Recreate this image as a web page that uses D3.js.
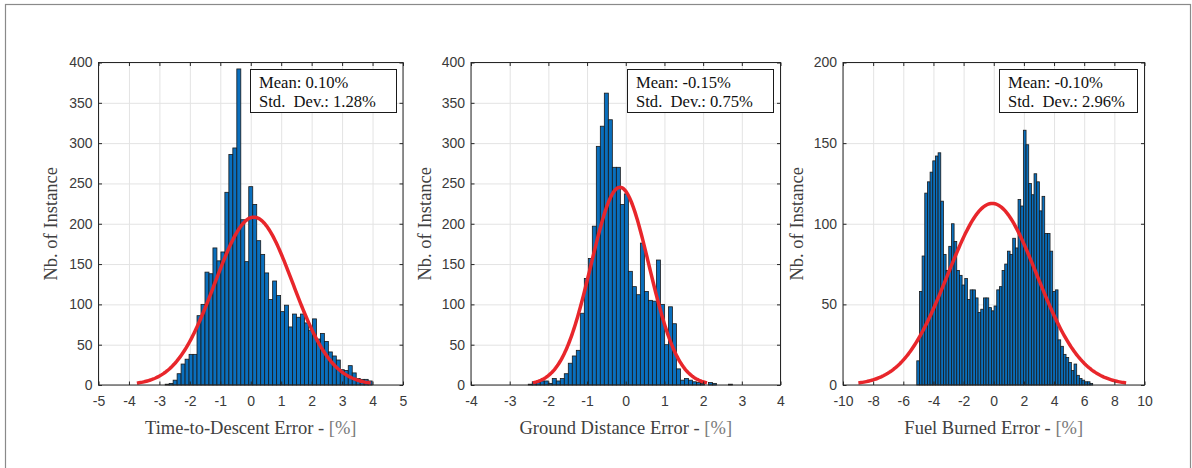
<!DOCTYPE html>
<html>
<head>
<meta charset="utf-8">
<script src="https://cdn.jsdelivr.net/npm/d3@7"></script>
<style>
  body { margin: 0; background: #ffffff; }
  .tick text { font-family: "Liberation Sans", Arial, sans-serif; font-size: 14px; fill: #3a3a3a; }
  .label { font-family: "Liberation Serif", "Times New Roman", serif; font-size: 18.5px; fill: #404040; }
  .legend--text { font-family: "Liberation Serif", "Times New Roman", serif; font-size: 16.6px; fill: #111; }
</style>
</head>
<body>
<svg id="chart" width="1192" height="468"></svg>
<script>
// Time-to-Descent error histogram
const tdBinStart = -2.81;
const tdBinWidth = 0.1307;
const tdCounts = [1, 2, 6, 14, 26, 32, 38, 38, 86, 100, 140, 138, 170, 154, 165, 239, 286, 294, 392, 205,
    153, 246, 224, 179, 162, 139, 106, 129, 111, 91, 99, 72, 88, 84, 88, 77, 68, 82, 57, 64,
    54, 41, 36, 31, 19, 18, 24, 15, 8, 7, 7, 5];
const tdMean = 0.10, tdStd = 1.28;

// Ground distance error histogram
const gdBinStart = -2.52;
const gdBinWidth = 0.1035;
const gdCounts = [1, 4, 3, 5, 5, 2, 8, 5, 8, 14, 27, 36, 43, 89, 132, 157, 197, 296, 321, 362,
    329, 270, 270, 224, 237, 141, 122, 112, 176, 116, 105, 104, 155, 100, 50, 97, 76, 20, 6, 8,
    6, 4, 3, 2, 0, 3, 2, 0, 0, 0, 1];
const gdMean = -0.15, gdStd = 0.75;

// Fuel burned error histogram
const fbBinStart = -5.106;
const fbBinWidth = 0.1768;
const fbCounts = [15, 58, 80, 119, 126, 132, 139, 142, 144, 114, 81, 71, 86, 100, 89, 71, 68, 62, 66, 53,
    59, 59, 54, 45, 47, 54, 54, 48, 46, 49, 59, 61, 71, 75, 83, 81, 91, 85, 115, 111,
    158, 149, 125, 118, 131, 126, 108, 117, 94, 94, 83, 58, 59, 28, 24, 19, 17, 14, 9, 13,
    6, 4, 3, 2, 2, 1];
const fbMean = -0.10, fbStd = 2.96;

const xLabels = ["Time-to-Descent Error - ", "Ground Distance Error - ", "Fuel Burned Error - "];
const yLabel = "Nb. of Instance";

const svg = d3.select("#chart");

// outer figure frame
svg.append("rect")
    .attr("x", 5.5).attr("y", 4.5)
    .attr("width", 1185).attr("height", 480)
    .attr("fill", "none")
    .attr("stroke", "#8a8a8a")
    .attr("stroke-width", 1.2);

const plotTop = 62.5, plotBottom = 385;

const panels = [
    { left: 98.5, right: 403, xDomain: [-5, 5], xStep: 1, yMax: 400,
      start: tdBinStart, width: tdBinWidth, counts: tdCounts, mean: tdMean, std: tdStd,
      label: xLabels[0], legendX: [250, 396], yLabelX: 57 },
    { left: 471, right: 780.5, xDomain: [-4, 4], xStep: 1, yMax: 400,
      start: gdBinStart, width: gdBinWidth, counts: gdCounts, mean: gdMean, std: gdStd,
      label: xLabels[1], legendX: [627, 773], yLabelX: 431 },
    { left: 843, right: 1144.5, xDomain: [-10, 10], xStep: 2, yMax: 200,
      start: fbBinStart, width: fbBinWidth, counts: fbCounts, mean: fbMean, std: fbStd,
      label: xLabels[2], legendX: [999, 1137], yLabelX: 803 }
];

function fmt(v) {
    return (v < 0 ? "-" : "") + Math.abs(v).toFixed(2) + "%";
}
const tickFmt = d => (d < 0 ? "-" : "") + Math.abs(d);

function drawPanel(p) {
    const x = d3.scaleLinear().domain(p.xDomain).range([p.left, p.right]);
    const y = d3.scaleLinear().domain([0, p.yMax]).range([plotBottom, plotTop]);
    const xTicks = d3.range(p.xDomain[0], p.xDomain[1] + 0.001, p.xStep);
    const yTicks = d3.range(0, p.yMax + 0.001, 50);
    const g = svg.append("g");

    // grid
    g.append("g")
        .attr("transform", `translate(0,${plotBottom})`)
        .call(d3.axisBottom(x).tickValues(xTicks).tickSize(-(plotBottom - plotTop)).tickFormat(""))
        .call(a => a.select(".domain").remove())
        .call(a => a.selectAll("line").attr("stroke", "#e3e3e3"));
    g.append("g")
        .attr("transform", `translate(${p.left},0)`)
        .call(d3.axisLeft(y).tickValues(yTicks).tickSize(-(p.right - p.left)).tickFormat(""))
        .call(a => a.select(".domain").remove())
        .call(a => a.selectAll("line").attr("stroke", "#e3e3e3"));

    // bars
    g.selectAll("rect.bar")
        .data(p.counts)
        .join("rect")
        .attr("class", "bar")
        .attr("x", (d, i) => x(p.start + i * p.width))
        .attr("width", (d, i) => x(p.start + (i + 1) * p.width) - x(p.start + i * p.width))
        .attr("y", d => y(d))
        .attr("height", d => y(0) - y(d))
        .attr("fill", "#0a6fbd")
        .attr("stroke", "#1a1a1a")
        .attr("stroke-width", 0.8);

    // normal fit
    const n = d3.sum(p.counts);
    const scale = n * p.width / (p.std * Math.sqrt(2 * Math.PI));
    const xs = d3.range(0, 201).map(i => p.mean - 3 * p.std + i * 6 * p.std / 200);
    const line = d3.line()
        .x(v => x(v))
        .y(v => y(scale * Math.exp(-0.5 * ((v - p.mean) / p.std) ** 2)));
    g.append("path")
        .datum(xs)
        .attr("d", line)
        .attr("fill", "none")
        .attr("stroke", "#e8262b")
        .attr("stroke-width", 3.5);

    // axes, ticks inside on all sides
    const axisStyle = a => {
        a.select(".domain").remove();
        a.selectAll("line").attr("stroke", "#262626");
    };
    g.append("g")
        .attr("transform", `translate(0,${plotBottom})`)
        .call(d3.axisBottom(x).tickValues(xTicks).tickSize(-3.5).tickPadding(11).tickFormat(tickFmt))
        .call(axisStyle);
    g.append("g")
        .attr("transform", `translate(0,${plotTop})`)
        .call(d3.axisTop(x).tickValues(xTicks).tickSize(-3.5).tickFormat(""))
        .call(axisStyle);
    g.append("g")
        .attr("transform", `translate(${p.left},0)`)
        .call(d3.axisLeft(y).tickValues(yTicks).tickSize(-3.5).tickPadding(6).tickFormat(tickFmt))
        .call(axisStyle);
    g.append("g")
        .attr("transform", `translate(${p.right},0)`)
        .call(d3.axisRight(y).tickValues(yTicks).tickSize(-3.5).tickFormat(""))
        .call(axisStyle);
    g.selectAll(".tick text").attr("fill", "#3a3a3a").attr("font-size", null).attr("font-family", null);

    g.append("rect")
        .attr("x", p.left).attr("y", plotTop)
        .attr("width", p.right - p.left).attr("height", plotBottom - plotTop)
        .attr("fill", "none")
        .attr("stroke", "#262626")
        .attr("stroke-width", 1);

    // legend box
    g.append("rect")
        .attr("x", p.legendX[0] + 0.5).attr("y", 69.5)
        .attr("width", p.legendX[1] - p.legendX[0]).attr("height", 43)
        .attr("fill", "#ffffff")
        .attr("stroke", "#1a1a1a")
        .attr("stroke-width", 1);
    g.append("text")
        .attr("class", "legend--text")
        .attr("x", p.legendX[0] + 9).attr("y", 87.5)
        .text("Mean: " + fmt(p.mean));
    g.append("text")
        .attr("class", "legend--text")
        .attr("x", p.legendX[0] + 9).attr("y", 106.5)
        .text("Std.\u00a0 Dev.: " + fmt(p.std));

    // axis labels
    const xl = g.append("text")
        .attr("class", "label")
        .attr("x", (p.left + p.right) / 2).attr("y", 434)
        .attr("text-anchor", "middle")
        .text(p.label);
    xl.append("tspan").attr("fill", "#7a7a7a").text("[%]");

    g.append("text")
        .attr("class", "label")
        .attr("transform", `translate(${p.yLabelX},${(plotTop + plotBottom) / 2}) rotate(-90)`)
        .attr("text-anchor", "middle")
        .text(yLabel);
}

panels.forEach(drawPanel);
</script>
</body>
</html>
